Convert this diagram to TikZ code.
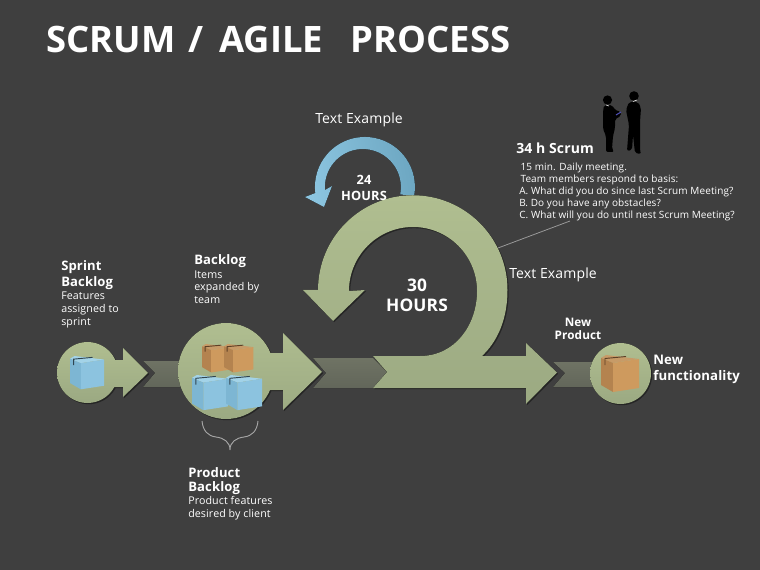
\documentclass[tikz,border=0pt]{standalone}
\usepackage{fontspec}
\setmainfont[LetterSpace=1]{Open Sans}
\newfontfamily\titlefont{Open Sans}
\usetikzlibrary{shadows}

\definecolor{slidebg}{HTML}{3F3F3F}
\definecolor{sagelight}{HTML}{B0BE90}
\definecolor{sagedark}{HTML}{9BA982}
\definecolor{bandlight}{HTML}{6F7364}
\definecolor{banddark}{HTML}{62665A}
\definecolor{skylight}{HTML}{8CC5E0}
\definecolor{skydark}{HTML}{6CA6C1}
\definecolor{bluefront}{HTML}{8CC3DF}
\definecolor{blueside}{HTML}{7DB6D3}
\definecolor{bluetop}{HTML}{A3D3E8}
\definecolor{bluetape}{HTML}{2F4450}
\definecolor{boxfront}{HTML}{CE9A5E}
\definecolor{boxside}{HTML}{B4834F}
\definecolor{boxtop}{HTML}{C79B68}
\definecolor{boxtape}{HTML}{5E4026}

\tikzset{
  sage/.style={top color=sagelight,bottom color=sagedark,
    drop shadow={shadow xshift=.9pt,shadow yshift=-.9pt,fill=black,opacity=.4}},
  band/.style={top color=bandlight,bottom color=banddark},
  textlabel/.style={text=white,inner sep=0pt,font=\fontsize{8}{9.4}\selectfont,align=left,anchor=west},
  heading/.style={textlabel,font=\fontsize{9.8}{11.6}\selectfont\bfseries},
  hours/.style={text=white,inner sep=0pt,align=center,font=\bfseries},
}

% carton at x, y with a scale, in the colours box or blue
\newcommand{\carton}[4]{
  \begin{scope}[shift={(#1,#2)},scale=#3]
    \fill[#4top] (0,3) -- (5,0) -- (38,4) -- (12,8) -- cycle;
    \fill[#4side] (0,3) -- (12,8) -- (12,37) -- (0,30) -- cycle;
    \fill[#4front] (12,8) -- (38,4) -- (38,33) -- (12,37) -- cycle;
    \draw[#4tape,line width=.7pt] (4,10) -- (4,3.5) -- (25,1.5);
  \end{scope}
}

\begin{document}
\begin{tikzpicture}[x=0.75pt,y=0.75pt,yscale=-1]
  \useasboundingbox (0,0) rectangle (760,570);
  \fill[slidebg] (0,0) rectangle (760,570);

  \node[text=white,inner sep=0pt,anchor=west,font=\titlefont\fontsize{27.3}{30}\selectfont\bfseries] (title) at (46,39)
    {SCRUM\hspace{.36em}/\hspace{.44em}AGILE\hspace{.76em}PROCESS};

  % Grey bands behind the arrows
  \fill[band] (143,361) -- (205,361) -- (205,387) -- (143,387) -- (155,373) -- cycle;
  \fill[band] (313,358) -- (373,358) -- (387,372) -- (373,388) -- (313,388) -- (326,373) -- cycle;
  \fill[band] (553,362) -- (600,362) -- (600,387) -- (553,387) -- (565,373) -- cycle;

  % Small loop
  \fill[shading=axis,left color=skylight,right color=skydark,shading angle=100]
    (414,196.5) arc[start angle=11,end angle=-187,radius=50]
    -- (305,197) -- (324,207) -- (332,186) -- (325,190)
    arc[start angle=-184.5,end angle=11,radius=38] -- cycle;

  % Big loop with the long arrow
  \fill[sage] (373,356) -- (420,356) .. controls (455,356) and (477,325) .. (477,291)
    arc[start angle=0,end angle=-180,radius=64]
    -- (365,290) -- (333,321) -- (303,290) -- (318,290)
    arc[start angle=-180,end angle=0,radius=94.75]
    .. controls (507.5,320) and (497,342) .. (482,356)
    -- (526,356) -- (526,343) -- (557,372.5) -- (526,404) -- (526,388) -- (373,388) -- (387,372) -- cycle;

  % Circles with their arrows
  \fill[sage] (87.5,372.5) circle (30.5)
    (105,360) -- (123,360) -- (123,348) -- (148,373) -- (123,397) -- (123,387) -- (105,387) -- cycle;
  \fill[sage] (226,371) circle (48)
    (260,353) -- (283,353) -- (283,333) -- (322,372) -- (283,410) -- (283,390) -- (260,390) -- cycle;
  \fill[sage] (620.5,373.5) circle (30.5);

  % Cartons
  \carton{70}{356}{.9}{blue}
  \carton{202}{344}{.77}{box}
  \carton{224}{344}{.77}{box}
  \carton{192}{375}{.95}{blue}
  \carton{226}{375}{.95}{blue}
  \carton{601}{355}{1}{box}

  % Brace under the backlog
  \draw[gray!70!white,line width=.7pt] (202,421) .. controls (203,431) and (208,436) .. (216,437)
    .. controls (224,438) and (230,442) .. (230,450)
    .. controls (230,442) and (236,438) .. (244,437)
    .. controls (252,436) and (257,431) .. (258,421);

  % Two people talking
  \fill[black] (607.5,100) circle (4.6);
  \fill[black,rounded corners=1.5pt] (604,105) -- (612,105) -- (615,110) -- (621,112) -- (621,116) -- (615,119)
    -- (615,128) -- (613,136) -- (612,149) -- (614,152) -- (606,152) -- (606,136) -- (603,129) -- (603,112) -- cycle;
  \fill[black] (634,96) circle (4.8);
  \fill[black,rounded corners=1.5pt] (629,102) -- (638,102) -- (641,108) -- (640,122) -- (640,151) -- (641,154) -- (635,153)
    -- (633,135) -- (632,150) -- (627,151) -- (629,125) -- (626,110) -- cycle;
  \draw[white,line width=.4pt] (606,105) -- (609,106);
  \draw[white,line width=.4pt] (633,101.5) -- (637,100);
  \draw[blue!40!gray,line width=.8pt] (616,115) -- (621,112);

  % Line from the meeting text down to the loop
  \coordinate (calloutTop) at (570,221);
  \coordinate (calloutEnd) at (498,248);
  \draw[gray!80!white,line width=.6pt] (calloutTop) -- (calloutEnd);

  % Labels
  \node[textlabel,font=\fontsize{10.5}{12}\selectfont] (textTop) at (315,119.5) {Text Example};
  \node[textlabel,font=\fontsize{10.5}{12}\selectfont] (textRight) at (509,274.5) {Text Example};
  \node[hours,font=\fontsize{9.6}{12}\selectfont\bfseries] (hoursSmall) at (364,188) {24\\HOURS};
  \node[hours,font=\fontsize{13}{15}\selectfont\bfseries] (hoursBig) at (417,295) {30\\HOURS};

  \node[heading,font=\fontsize{10.5}{12}\selectfont\bfseries] (scrumHead) at (516,148) {34 h Scrum};
  \node[textlabel,font=\fontsize{7.5}{9}\selectfont] (scrumText) at (519,192)
    {\hspace{1pt}15 min. Daily meeting.\\\hspace{1pt}Team members respond to basis:\\A. What did you do since last Scrum Meeting?\\B. Do you have any obstacles?\\C. What will you do until nest Scrum Meeting?};

  \node[heading] (sprintHead) at (61,275) {Sprint\\Backlog};
  \node[textlabel] (sprintText) at (61,310) {Features\\assigned to\\sprint};
  \node[heading] (backlogHead) at (194,261) {Backlog};
  \node[textlabel] (backlogText) at (194,287) {Items\\expanded by\\team};
  \node[heading,font=\fontsize{9.8}{10.5}\selectfont\bfseries] (productHead) at (188,481.5) {Product\\Backlog};
  \node[textlabel] (productText) at (188,508) {Product features\\desired by client};

  \node[hours,font=\fontsize{8.8}{9.8}\selectfont\bfseries] (newProduct) at (578,328.5) {New\\Product};
  \node[heading,font=\fontsize{9.9}{12}\selectfont\bfseries] (newFunction) at (653,369.5) {New\\functionality};
\end{tikzpicture}
\end{document}
